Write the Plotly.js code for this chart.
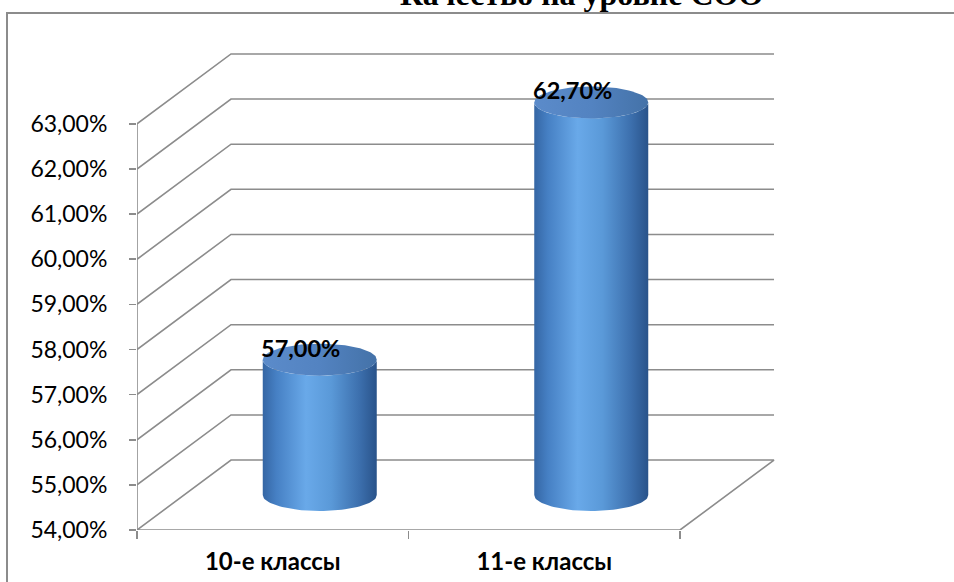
<!DOCTYPE html>
<html>
<head>
<meta charset="utf-8">
<script src="https://cdn.plot.ly/plotly-3.0.1.min.js"></script>
<style>
html,body{margin:0;padding:0;background:#fff;overflow:hidden;}
#wrap{position:relative;width:954px;height:582px;overflow:hidden;}
#frame{position:absolute;left:6px;top:12px;width:1200px;height:1200px;border-left:2px solid #8c8c8c;border-top:2px solid #8c8c8c;box-sizing:border-box;}
#chart{position:absolute;left:0;top:0;width:954px;height:582px;}
</style>
</head>
<body>
<div id="wrap"><div id="frame"></div><div id="chart"></div></div>
<script>
// ---- data ----
const categories = ['10-е классы', '11-е классы'];
const values = [57.0, 62.7];
const valueLabels = ['57,00%', '62,70%'];
const yTicks = [54, 55, 56, 57, 58, 59, 60, 61, 62, 63];
const yTickLabels = ['54,00%', '55,00%', '56,00%', '57,00%', '58,00%', '59,00%', '60,00%', '61,00%', '62,00%', '63,00%'];
const chartTitle = 'Качество на уровне СОО';

// ---- geometry / style ----
const W = 954, H = 582;
const mL = 137, mR = 2, mT = 13, mB = 51.5;
const plotW = W - mL - mR, plotH = H - mT - mB;
const PX_X = 271.5;            // px per category unit
const PX_Y = 45.17;            // px per 1 %
const DX = 94 / PX_X;          // depth offset (x, data units)
const DY = 70 / PX_Y;          // depth offset (y, data units)
const N = categories.length;
const yMin = yTicks[0], yMax = yTicks[yTicks.length - 1];
const gridColor = '#8c8c8c';
const depthF = 0.5;
const RA = 57 / PX_X;          // cylinder radius x
const RB = 16 / PX_Y;          // cylinder ellipse semi-minor (y units)

const traces = [];
function line(xs, ys) {
  traces.push({x: xs, y: ys, mode: 'lines', line: {color: gridColor, width: 1.6},
    hoverinfo: 'skip', showlegend: false, cliponaxis: false});
}
// back-wall grid lines with left-wall diagonals
yTicks.forEach(v => {
  if (v === yMin) return;
  line([0, DX, N + DX], [v, v + DY, v + DY]);
});
// floor
line([N, 0, DX, N + DX, N], [yMin, yMin, yMin + DY, yMin + DY, yMin]);
// front vertical axis line
line([0, 0], [yMin, yMax]);

// cylinders
const bodyScale = [[0, '#3566a4'], [0.12, '#4680c4'], [0.38, '#69a9e9'], [0.6, '#5a99d8'], [0.85, '#3c6fad'], [1, '#29538a']];
const topScale = [[0, '#5b8bca'], [0.5, '#5383c1'], [1, '#4472a8']];
const annotations = [];
values.forEach((v, i) => {
  const xc = i + 0.5 + DX * depthF;
  const yb = yMin + DY * depthF;
  const yt = v + DY * depthF;
  const bx = [], by = [];
  bx.push(xc - RA); by.push(yb);
  bx.push(xc - RA); by.push(yt);
  const S = 48;
  for (let k = 0; k <= S; k++) {
    const t = Math.PI + Math.PI * k / S;
    bx.push(xc + RA * Math.cos(t)); by.push(yt + RB * Math.sin(t));
  }
  bx.push(xc + RA); by.push(yb);
  for (let k = 0; k <= S; k++) {
    const t = 2 * Math.PI - Math.PI * k / S;
    bx.push(xc + RA * Math.cos(t)); by.push(yb + RB * Math.sin(t));
  }
  traces.push({x: bx, y: by, mode: 'lines', line: {width: 0}, fill: 'toself',
    fillgradient: {type: 'horizontal', colorscale: bodyScale},
    hoverinfo: 'skip', showlegend: false});
  const tx = [], ty = [];
  for (let k = 0; k <= 96; k++) {
    const t = 2 * Math.PI * k / 96;
    tx.push(xc + RA * Math.cos(t)); ty.push(yt + RB * Math.sin(t));
  }
  traces.push({x: tx, y: ty, mode: 'lines', line: {width: 0}, fill: 'toself',
    fillgradient: {type: 'horizontal', colorscale: topScale},
    hoverinfo: 'skip', showlegend: false});
  annotations.push({x: xc, y: yt + RB, xref: 'x', yref: 'y', text: valueLabels[i],
    showarrow: false, xanchor: 'center', yanchor: 'middle', xshift: -19, yshift: -4,
    font: {family: 'Lato', size: 23.5, weight: 'bold', color: '#000'}});
});

// title (partly cut off at top, as in the reference)
annotations.push({xref: 'paper', yref: 'paper', x: (581 - mL) / plotW, y: (plotH + mT - 14) / plotH,
  xanchor: 'center', yanchor: 'bottom', showarrow: false, text: chartTitle,
  font: {family: 'Liberation Serif', size: 32, weight: 'bold', color: '#000'}});

const layout = {
  width: W, height: H,
  margin: {l: mL, r: mR, t: mT, b: mB, pad: 0},
  paper_bgcolor: 'rgba(0,0,0,0)', plot_bgcolor: 'rgba(0,0,0,0)',
  showlegend: false,
  xaxis: {range: [0, plotW / PX_X], tickvals: [0.5, 1.5], ticktext: categories,
    ticks: '', showgrid: false, zeroline: false, showline: false,
    tickfont: {family: 'Lato', size: 24, weight: 'bold', color: '#000'},
    ticklabelstandoff: 15,
    minor: {tickmode: 'array', tickvals: [0, 1, 2], ticks: 'outside', ticklen: 8, tickwidth: 1.6, tickcolor: gridColor, showgrid: false},
    fixedrange: true},
  yaxis: {range: [yMin, yMin + plotH / PX_Y], tickvals: yTicks, ticktext: yTickLabels,
    ticks: 'outside', ticklen: 7, tickwidth: 1.6, tickcolor: gridColor,
    showgrid: false, zeroline: false, showline: false,
    tickfont: {family: 'Lato', size: 23, color: '#000'},
    ticklabelstandoff: 17, fixedrange: true},
  annotations: annotations
};

Plotly.newPlot('chart', traces, layout, {displayModeBar: false, staticPlot: true});
</script>
</body>
</html>
